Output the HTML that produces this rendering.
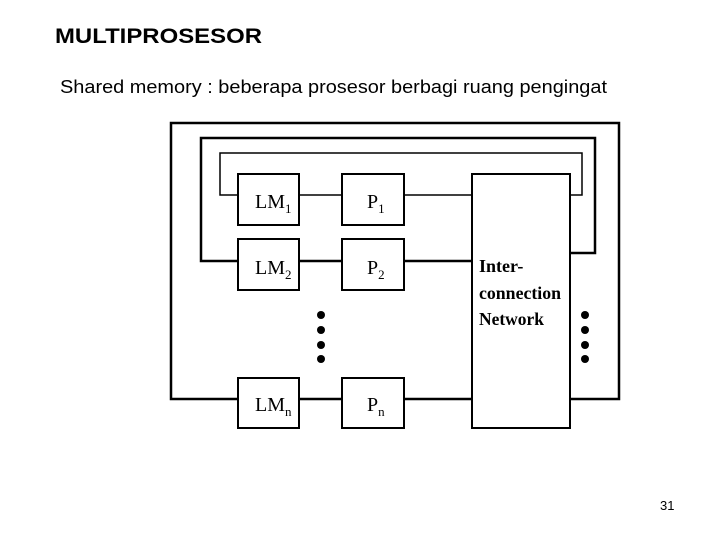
<!DOCTYPE html>
<html><head><style>html,body{margin:0;padding:0;background:#fff}</style></head>
<body>
<svg width="720" height="540" viewBox="0 0 720 540" xmlns="http://www.w3.org/2000/svg">
<rect width="720" height="540" fill="#fff"/>
<text x="55" y="43" font-family="Liberation Sans, sans-serif" font-weight="bold" font-size="21" textLength="207" lengthAdjust="spacingAndGlyphs">MULTIPROSESOR</text>
<text x="60" y="93" font-family="Liberation Sans, sans-serif" font-size="18" textLength="547" lengthAdjust="spacingAndGlyphs">Shared memory : beberapa prosesor berbagi ruang pengingat</text>
<text x="660" y="510" font-family="Liberation Sans, sans-serif" font-size="13">31</text>
<g fill="none" stroke="#000">
<!-- outer loop -->
<polyline stroke-width="2.5" points="238,399 171,399 171,123 619,123 619,399 570,399"/>
<!-- loop2 -->
<polyline stroke-width="2.5" points="238,261 201,261 201,138 595,138 595,253 570,253"/>
<!-- loop3 -->
<polyline stroke-width="1.5" points="238,195 220,195 220,153 582,153 582,195 570,195"/>
<!-- row connectors -->
<line stroke-width="1.5" x1="299" y1="195" x2="342" y2="195"/>
<line stroke-width="1.5" x1="404" y1="195" x2="472" y2="195"/>
<line stroke-width="2.5" x1="299" y1="261" x2="342" y2="261"/>
<line stroke-width="2.5" x1="404" y1="261" x2="472" y2="261"/>
<line stroke-width="2.5" x1="299" y1="399" x2="342" y2="399"/>
<line stroke-width="2.5" x1="404" y1="399" x2="472" y2="399"/>
<!-- boxes -->
<g stroke-width="2">
<rect x="238" y="174" width="61" height="51"/>
<rect x="342" y="174" width="62" height="51"/>
<rect x="238" y="239" width="61" height="51"/>
<rect x="342" y="239" width="62" height="51"/>
<rect x="238" y="378" width="61" height="50"/>
<rect x="342" y="378" width="62" height="50"/>
<rect x="472" y="174" width="98" height="254"/>
</g>
</g>
<g fill="#000">
<circle cx="321" cy="315" r="4"/><circle cx="321" cy="330" r="4"/><circle cx="321" cy="345" r="4"/><circle cx="321" cy="359" r="4"/>
<circle cx="585" cy="315" r="4"/><circle cx="585" cy="330" r="4"/><circle cx="585" cy="345" r="4"/><circle cx="585" cy="359" r="4"/>
</g>
<g font-family="Liberation Serif, serif" font-size="20">
<text x="255" y="208">LM<tspan font-size="13" dy="5">1</tspan></text>
<text x="367" y="208">P<tspan font-size="13" dy="5">1</tspan></text>
<text x="255" y="274">LM<tspan font-size="13" dy="5">2</tspan></text>
<text x="367" y="274">P<tspan font-size="13" dy="5">2</tspan></text>
<text x="255" y="411">LM<tspan font-size="13" dy="5">n</tspan></text>
<text x="367" y="411">P<tspan font-size="13" dy="5">n</tspan></text>
</g>
<g font-family="Liberation Serif, serif" font-size="18" font-weight="bold">
<text x="479" y="272">Inter-</text>
<text x="479" y="299" textLength="82" lengthAdjust="spacingAndGlyphs">connection</text>
<text x="479" y="325" textLength="65" lengthAdjust="spacingAndGlyphs">Network</text>
</g>
</svg>
</body></html>
